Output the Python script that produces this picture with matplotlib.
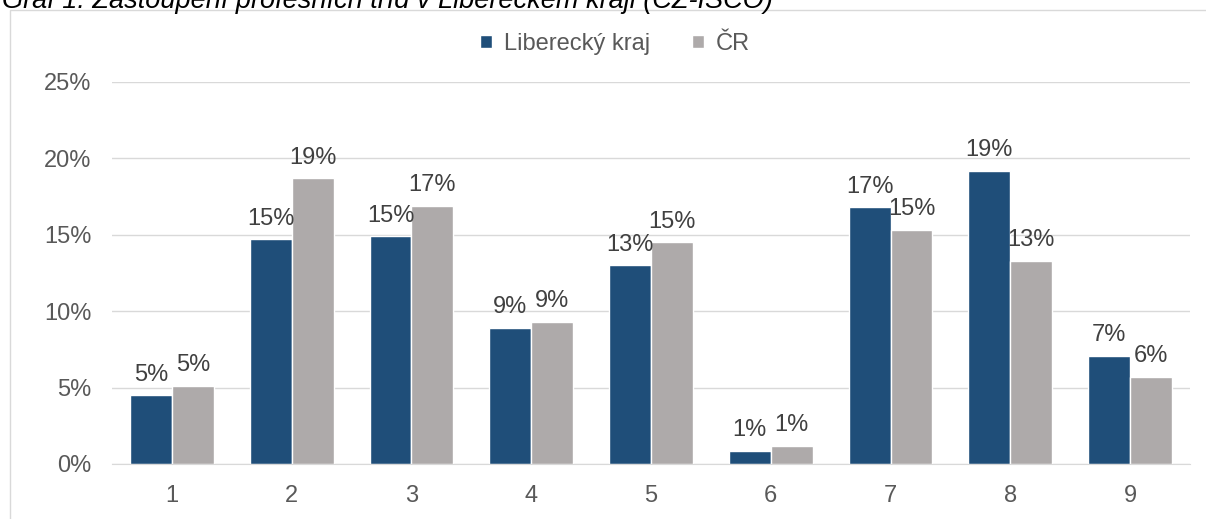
import matplotlib.pyplot as plt
import matplotlib.ticker as ticker
from matplotlib.patches import Rectangle
import numpy as np

plt.rcParams['font.family'] = ['Liberation Sans', 'DejaVu Sans']

# data
categories = ['1', '2', '3', '4', '5', '6', '7', '8', '9']
liberecky = [4.5, 14.7, 14.9, 8.9, 13.0, 0.85, 16.8, 19.2, 7.1]
cr = [5.1, 18.7, 16.9, 9.3, 14.5, 1.2, 15.3, 13.3, 5.7]
lab_lib = ['5%', '15%', '15%', '9%', '13%', '1%', '17%', '19%', '7%']
lab_cr = ['5%', '19%', '17%', '9%', '15%', '1%', '15%', '13%', '6%']

blue = '#1f4e79'
grey = '#aeaaaa'
txt = '#595959'
fs = 17

fig = plt.figure(figsize=(12.06, 5.19), dpi=100)
ax = fig.add_axes([112 / 1206, 1 - 464 / 519, 1078 / 1206, 382 / 519])

x = np.arange(len(categories))
w = 0.35
b1 = ax.bar(x - w / 2, liberecky, w, color=blue, edgecolor='white', linewidth=1, label='Liberecký kraj')
b2 = ax.bar(x + w / 2, cr, w, color=grey, edgecolor='white', linewidth=1, label='ČR')

for rect, s in zip(b1, lab_lib):
    ax.annotate(s, (rect.get_x() + rect.get_width() / 2, rect.get_height()),
                xytext=(0, 7), textcoords='offset points', ha='center', va='bottom',
                fontsize=fs, color='#404040')
for rect, s in zip(b2, lab_cr):
    ax.annotate(s, (rect.get_x() + rect.get_width() / 2, rect.get_height()),
                xytext=(0, 7), textcoords='offset points', ha='center', va='bottom',
                fontsize=fs, color='#404040')

ax.set_xlim(-0.5, len(categories) - 0.5)
ax.set_ylim(0, 25)
ax.set_yticks(np.arange(0, 26, 5))
ax.yaxis.set_major_formatter(ticker.FormatStrFormatter('%d%%'))
ax.set_xticks(x)
ax.set_xticklabels(categories)
ax.tick_params(axis='both', length=0, labelsize=fs, colors=txt)
ax.tick_params(axis='x', pad=15)
ax.tick_params(axis='y', pad=15)

for sp in ['top', 'right', 'left']:
    ax.spines[sp].set_visible(False)
ax.spines['bottom'].set_color('#d9d9d9')
ax.yaxis.grid(True, color='#d9d9d9', linewidth=1)
ax.set_axisbelow(True)

leg = fig.legend(loc='center', bbox_to_anchor=(615 / 1206, 1 - 44 / 519), ncol=2,
                 frameon=False, fontsize=fs, handlelength=0.5, handleheight=0.5,
                 handletextpad=0.5, columnspacing=1.8)
for t in leg.get_texts():
    t.set_color(txt)

# chart frame (cut off at top/right)
fig.patches.append(Rectangle((10 / 1206, -0.1), 1.2, 1 - 10 / 519 + 0.1,
                             transform=fig.transFigure, fill=False,
                             edgecolor='#d9d9d9', linewidth=1))

# caption partly cut off at the top
fig.text(2 / 1206, 1 - 1 / 519, 'Graf 1: Zastoupení profesních tříd v Libereckém kraji (CZ-ISCO)',
         ha='left', va='center', fontsize=19.5, style='italic', color='#000000')

fig.savefig('out.png', dpi=100)
